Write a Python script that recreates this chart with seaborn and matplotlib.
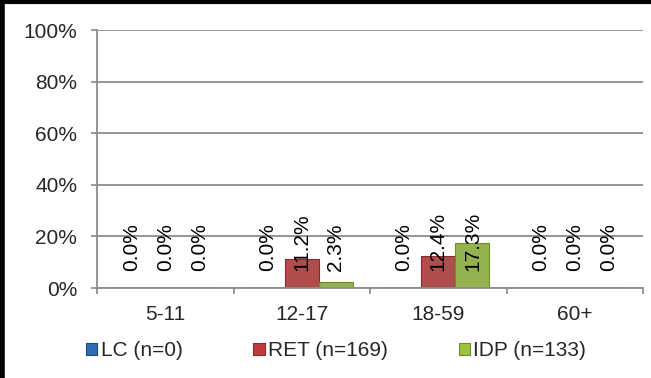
import pandas as pd
import matplotlib.pyplot as plt
import seaborn as sns
from matplotlib.lines import Line2D
from matplotlib.patches import Patch

# Data
age_groups = ["5-11", "12-17", "18-59", "60+"]
series_names = ["LC (n=0)", "RET (n=169)", "IDP (n=133)"]
lc_values = [0.0, 0.0, 0.0, 0.0]
ret_values = [0.0, 11.2, 12.4, 0.0]
idp_values = [0.0, 2.3, 17.3, 0.0]
y_ticks = [0, 20, 40, 60, 80, 100]

colors = ["#2E6DB4", "#C23B3B", "#9CC240"]
edges = ["#1B4A80", "#8E2A2A", "#6E8C2A"]
FS = 15

df = pd.DataFrame({
    "age": age_groups * 3,
    "group": [series_names[0]] * 4 + [series_names[1]] * 4 + [series_names[2]] * 4,
    "value": lc_values + ret_values + idp_values,
})

sns.set_style("white")
plt.rcParams["font.family"] = ["Liberation Sans", "DejaVu Sans"]

fig = plt.figure(figsize=(6.51, 3.78), dpi=100)
ax = fig.add_axes([97 / 651, 90 / 378, 546 / 651, 258 / 378])

sns.barplot(data=df, x="age", y="value", hue="group", order=age_groups,
            hue_order=series_names, palette=colors, width=0.75,
            linewidth=0.8, legend=False, ax=ax)

# darker outline per series
for cont, ec in zip(ax.containers, edges):
    for bar in cont:
        bar.set_edgecolor(ec)

# rotated value labels, bottom anchored a little above the axis
for cont in ax.containers:
    for bar in cont:
        xc = bar.get_x() + bar.get_width() / 2
        ax.text(xc, 6.5, f"{bar.get_height():.1f}%", rotation=90,
                ha="center", va="bottom", fontsize=FS, color="black")

ax.set_ylim(0, 100)
ax.set_xlim(-0.5, len(age_groups) - 0.5)
ax.set_yticks(y_ticks)
ax.set_yticklabels([f"{t}%" for t in y_ticks], fontsize=FS)
ax.set_xticks(range(len(age_groups)))
ax.set_xticklabels(age_groups, fontsize=FS)
ax.tick_params(axis="x", length=0, pad=12.5)
ax.tick_params(axis="y", length=4.3, color="#888888", width=1.2, pad=10, left=True)
ax.set_xlabel("")
ax.set_ylabel("")

# category separators on the x axis
ax.set_xticks([i - 0.5 for i in range(len(age_groups) + 1)], minor=True)
ax.tick_params(axis="x", which="minor", length=4.3, color="#888888", width=1.2, bottom=True)

ax.yaxis.grid(True, color="#8C8C8C", linewidth=1.3)
ax.set_axisbelow(True)
for side in ["top", "right"]:
    ax.spines[side].set_visible(False)
for side in ["left", "bottom"]:
    ax.spines[side].set_color("#8C8C8C")
    ax.spines[side].set_linewidth(1.3)

handles = [Patch(facecolor=c, edgecolor=e, linewidth=0.8) for c, e in zip(colors, edges)]
fig.legend(handles, series_names, loc="center left", bbox_to_anchor=(86 / 651, 1 - 351 / 378),
           ncol=3, frameon=False, fontsize=FS, handlelength=0.55, handleheight=0.55,
           handletextpad=0.15, columnspacing=3.4, borderpad=0, borderaxespad=0)

# black frame on top and left of the figure
fig.add_artist(Line2D([0, 1], [1 - 1.5 / 378] * 2, color="black", linewidth=3,
                      transform=fig.transFigure))
fig.add_artist(Line2D([2 / 651] * 2, [0, 1], color="black", linewidth=4,
                      transform=fig.transFigure))

fig.savefig("out.png", dpi=100)
